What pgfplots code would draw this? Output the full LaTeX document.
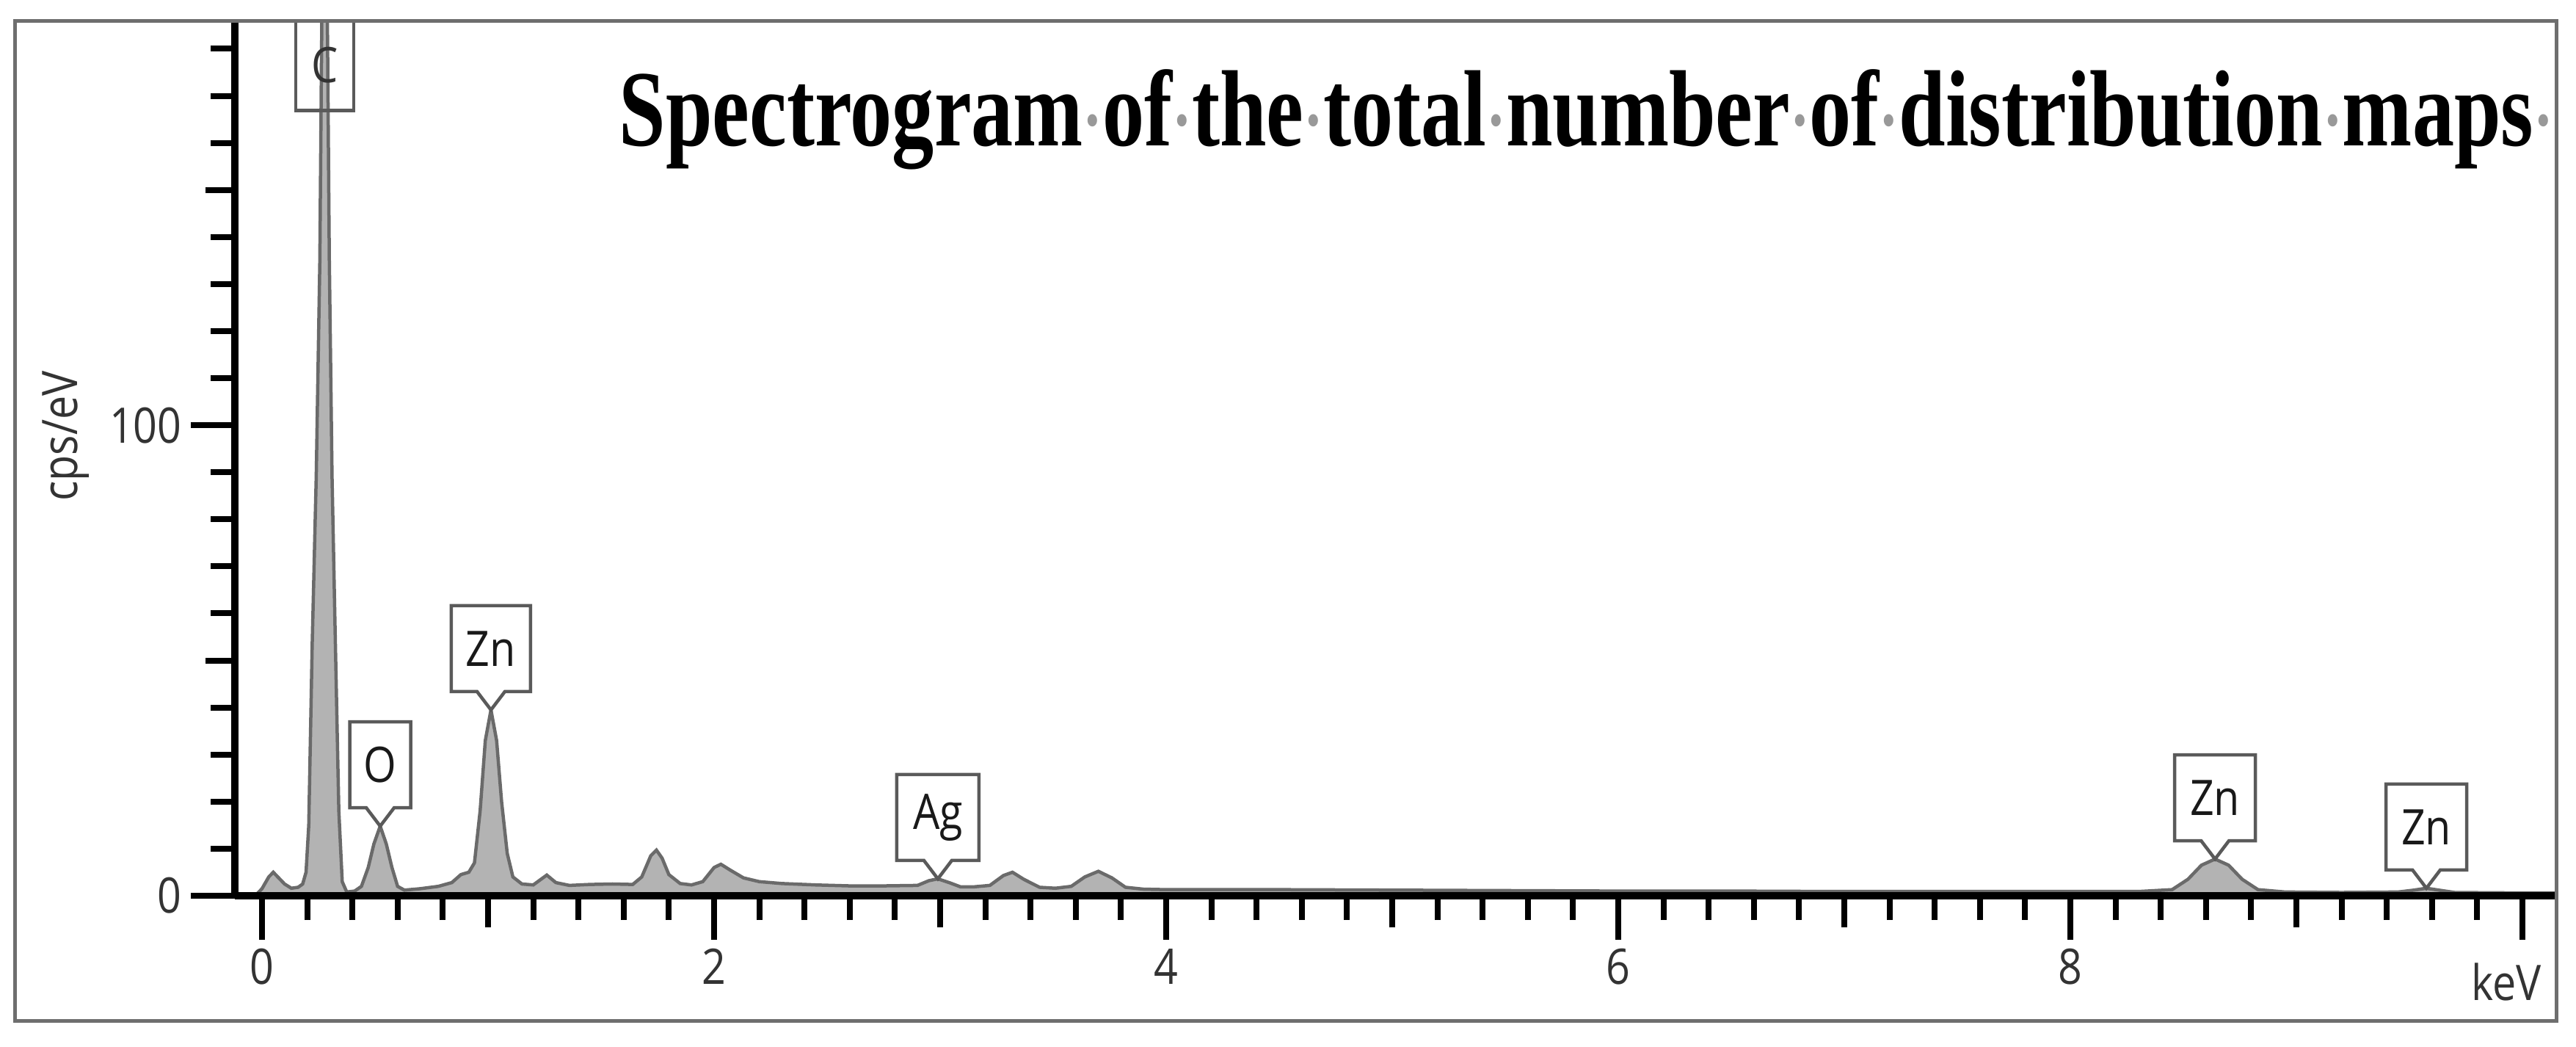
\documentclass[border=0pt]{standalone}
\usepackage{pgfplots}
\pgfplotsset{compat=1.18}
\usepackage{fontspec}
\setmainfont{Open Sans}[FakeStretch=0.86]
\newfontfamily\titlefont{Liberation Serif}
\definecolor{specfill}{HTML}{B3B3B3}
\definecolor{specline}{HTML}{6A6A6A}
\definecolor{framegray}{HTML}{6E6E6E}
\definecolor{boxgray}{HTML}{5A5A5A}
\definecolor{ticktext}{HTML}{333333}
\newcommand{\sd}{\textcolor{gray!80}{\scalebox{0.7}{·}}}
\newcommand{\lblfont}{\fontsize{19}{22}\selectfont}
% tip x, tip y, text, half width (mm)
\newcommand{\peaklabel}[4]{%
  \draw[boxgray, line width=0.45mm, fill=white, line join=miter]
    (axis cs:#1,#2) -- ++(-1.9mm,2.5mm) -- ++({1.9mm-#4mm},0mm) -- ++(0mm,11.7mm)
    -- ++({2*#4mm},0mm) -- ++(0mm,-11.7mm) -- ++({1.9mm-#4mm},0mm) -- cycle;
  \node[text=black!90, font=\lblfont, inner sep=0] at ([yshift=8.35mm]axis cs:#1,#2) {#3};
}
\begin{document}
\begin{tikzpicture}
\begin{axis}[
  at={(32mm,-122mm)}, anchor=south west,
  scale only axis, width=316.2mm, height=119.2mm,
  xmin=-0.12, xmax=10.146, ymin=0, ymax=186,
  axis x line=bottom, axis y line=left,
  axis line style={-, line width=1mm, black},
  axis on top,
  xtick={0,2,4,6,8,10}, xticklabels={0,2,4,6,8,},
  minor xtick={0.2,0.4,...,10},
  extra x ticks={1,3,5,7,9}, extra x tick labels={},
  extra x tick style={major tick length=4.3mm},
  ytick={0,100}, minor ytick={10,20,...,180},
  extra y ticks={50,150}, extra y tick labels={},
  extra y tick style={major tick length=4mm},
  tick align=outside,
  major tick length=6mm, minor tick length=3.3mm,
  tick style={black, line width=0.8mm},
  tick label style={font=\lblfont, text=ticktext},
  /pgf/number format/assume math mode=true,
]
\addplot[fill=specfill, draw=specline, line width=0.45mm] coordinates {
(-0.03,0) (0.0,1.5) (0.03,4) (0.05,5) (0.07,4) (0.10,2.5) (0.13,1.6) (0.16,1.8)
(0.18,2.5) (0.195,5) (0.207,15) (0.222,53) (0.24,89) (0.256,135) (0.267,200)
(0.277,240) (0.287,200) (0.298,135) (0.31,89) (0.325,53) (0.34,18) (0.355,3)
(0.375,0.8) (0.41,1) (0.44,2) (0.47,6) (0.495,11) (0.523,14.8) (0.55,11)
(0.575,6) (0.60,2) (0.63,1.2) (0.70,1.5) (0.78,2) (0.84,2.8) (0.88,4.5)
(0.915,5) (0.94,7) (0.965,18) (0.988,33) (1.013,39.5) (1.038,33) (1.06,20)
(1.085,9) (1.11,4) (1.15,2.5) (1.20,2.3) (1.26,4.4) (1.30,2.8) (1.36,2.2)
(1.45,2.4) (1.55,2.5) (1.64,2.4) (1.68,4) (1.72,8.5) (1.745,9.7) (1.77,8)
(1.80,4.5) (1.85,2.6) (1.90,2.3) (1.95,3) (2.00,6) (2.03,6.7) (2.07,5.5)
(2.13,3.8) (2.20,3) (2.30,2.6) (2.45,2.3) (2.60,2.1) (2.75,2.1) (2.90,2.2)
(2.95,3.2) (2.99,3.6) (3.04,2.8) (3.09,1.9) (3.15,1.9) (3.22,2.2) (3.28,4.3)
(3.32,5) (3.37,3.5) (3.44,1.8) (3.51,1.6) (3.58,2) (3.64,4) (3.70,5.2)
(3.76,3.8) (3.82,1.8) (3.90,1.4) (4.0,1.3) (4.5,1.3) (5.0,1.2) (5.5,1.1)
(6.0,1.0) (6.5,1.0) (7.0,0.9) (7.5,0.9) (8.0,0.9) (8.3,0.9) (8.45,1.3)
(8.52,3.5) (8.58,6.5) (8.64,7.8) (8.70,6.5) (8.76,3.5) (8.83,1.3) (8.95,0.8)
(9.2,0.7) (9.45,0.8) (9.52,1.2) (9.575,1.6) (9.63,1.2) (9.70,0.7) (10.0,0.6)
(10.146,0.6)
} \closedcycle;
\draw[boxgray, line width=0.45mm] (axis cs:0.149,166.9) rectangle (axis cs:0.406,186);
\node[text=black!80, font=\lblfont, inner sep=0] at (axis cs:0.277,176.5) {C};
\peaklabel{0.523}{14.8}{O}{4.15}
\peaklabel{1.013}{39.5}{Zn}{5.4}
\peaklabel{2.99}{3.6}{Ag}{5.6}
\peaklabel{8.64}{7.8}{Zn}{5.5}
\peaklabel{9.575}{1.6}{Zn}{5.5}
\end{axis}
\draw[framegray, line width=0.5mm] (2mm,-2.8mm) rectangle (348.3mm,-139mm);
\node[anchor=base west, inner sep=0] at (84.3mm,-19.8mm)
  {\fontsize{42}{50}\selectfont\titlefont\bfseries\resizebox{263.5mm}{\height}{Spectrogram\sd of\sd the\sd total\sd number\sd of\sd distribution\sd maps\sd}};
\node[rotate=90, font=\lblfont, text=ticktext] at (9mm,-59.4mm) {cps/eV};
\node[anchor=base, font=\lblfont, text=ticktext, inner sep=0] at (341.5mm,-136.2mm) {keV};
\pgfresetboundingbox
\path[use as bounding box] (0,0) rectangle (351mm,-142.6mm);
\end{tikzpicture}
\end{document}
